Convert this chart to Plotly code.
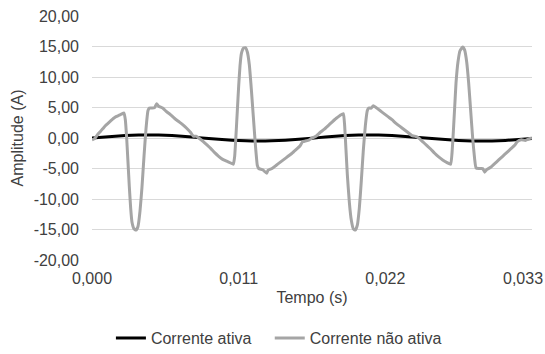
import plotly.graph_objects as go

# Corrente ativa (black)
t_ativa = [0.000, 0.001, 0.002, 0.003, 0.004, 0.005, 0.006, 0.007, 0.008, 0.009,
           0.010, 0.011, 0.012, 0.013, 0.014, 0.015, 0.016, 0.017, 0.018, 0.019,
           0.020, 0.021, 0.022, 0.023, 0.024, 0.025, 0.026, 0.027, 0.028, 0.029,
           0.030, 0.031, 0.032, 0.033]
i_ativa = [0.00, 0.18, 0.34, 0.45, 0.50, 0.48, 0.39, 0.24, 0.06, -0.12,
           -0.29, -0.42, -0.49, -0.49, -0.42, -0.29, -0.12, 0.06, 0.24, 0.39,
           0.48, 0.50, 0.45, 0.34, 0.18, 0.00, -0.18, -0.34, -0.45, -0.50,
           -0.48, -0.39, -0.24, -0.06]

# Corrente não ativa (gray)
t_nao = [0.0000, 0.0002, 0.0004, 0.0006, 0.0008, 0.0010, 0.0012, 0.0014, 0.0016, 0.0018,
         0.0020, 0.0022, 0.0024, 0.0025, 0.0026, 0.0027, 0.0028, 0.0029, 0.0030, 0.00315,
         0.0033, 0.00345, 0.0036, 0.00375, 0.0039, 0.00405, 0.0042, 0.0043, 0.0045, 0.0047,
         0.00485, 0.0050, 0.0053, 0.0056, 0.0059, 0.0062, 0.0065, 0.0068, 0.0071, 0.0074,
         0.0076, 0.0078, 0.0080, 0.0083, 0.0086, 0.0089, 0.0092, 0.0095, 0.0098, 0.0101,
         0.0104, 0.0106, 0.0107, 0.0108, 0.0109, 0.0110, 0.0111, 0.0112, 0.01135, 0.0115,
         0.01165, 0.0118, 0.01195, 0.0121, 0.01225, 0.0124, 0.0125, 0.0128, 0.0131, 0.0132,
         0.0135, 0.0138, 0.0141, 0.0144, 0.0147, 0.0150, 0.0153, 0.0156, 0.0158, 0.0160,
         0.0163, 0.0165, 0.0168, 0.0171, 0.0174, 0.0177, 0.0180, 0.0183, 0.0186, 0.01885,
         0.01895, 0.01905, 0.01915, 0.0193, 0.01945, 0.0196, 0.01975, 0.0199, 0.02005, 0.0202,
         0.02035, 0.0205, 0.02065, 0.02075, 0.02095, 0.0211, 0.0213, 0.0216, 0.0219, 0.0222,
         0.0225, 0.0228, 0.0231, 0.0234, 0.0237, 0.0240, 0.0242, 0.0245, 0.0248, 0.0251,
         0.0254, 0.0257, 0.0260, 0.0263, 0.0266, 0.0269, 0.0270, 0.0271, 0.0272, 0.0273,
         0.02745, 0.0276, 0.0278, 0.02795, 0.0281, 0.02825, 0.0284, 0.02855, 0.0287, 0.0288,
         0.0290, 0.0293, 0.02945, 0.0296, 0.0299, 0.0302, 0.0305, 0.0308, 0.0311, 0.0314,
         0.0317, 0.0319, 0.0322, 0.0325, 0.0328, 0.0330]
i_nao = [-0.3, -0.1, 0.5, 1.0, 1.5, 2.0, 2.4, 2.8, 3.2, 3.5,
         3.7, 3.9, 4.1, 3.0, 0.0, -4.0, -8.0, -11.5, -13.8, -14.9,
         -15.1, -14.5, -12.0, -8.0, -3.0, 1.5, 4.5, 4.9, 4.9, 5.0,
         5.6, 5.2, 4.9, 4.3, 3.8, 3.2, 2.7, 2.2, 1.6, 0.9,
         0.3, 0.3, 0.0, -0.5, -1.1, -1.7, -2.4, -3.0, -3.5, -3.8,
         -4.1, -4.3, -3.0, 0.5, 4.5, 8.5, 11.8, 13.8, 14.7, 14.8,
         14.1, 12.0, 8.0, 3.5, -1.0, -4.5, -5.0, -5.2, -5.8, -5.3,
         -5.0, -4.5, -4.0, -3.5, -3.0, -2.5, -1.9, -1.3, -0.6, -0.5,
         -0.3, 0.0, 0.3, 0.9, 1.4, 2.0, 2.6, 3.2, 3.7, 4.0,
         2.0, -2.0, -6.0, -10.5, -13.5, -14.9, -15.1, -14.3, -11.5, -7.0,
         -2.0, 2.0, 4.5, 4.9, 4.9, 5.3, 5.0, 4.5, 4.0, 3.5,
         3.0, 2.4, 1.9, 1.4, 0.9, 0.4, 0.3, 0.0, -0.6, -1.2,
         -1.8, -2.5, -3.1, -3.6, -4.0, -4.3, -2.5, 1.0, 5.0, 9.0,
         12.5, 14.3, 14.9, 14.4, 12.5, 9.0, 4.5, 0.0, -3.5, -4.9,
         -5.0, -5.0, -5.6, -5.2, -4.8, -4.2, -3.6, -3.0, -2.4, -1.8,
         -1.2, -0.6, -0.3, -0.4, -0.1, 0.0]

x_tickvals = [0.000, 0.011, 0.022, 0.033]
x_ticktext = ["0,000", "0,011", "0,022", ""]
x_last_ticktext = "0,033"   # drawn right-aligned to the chart edge, as in the original
y_tickvals = [-20, -15, -10, -5, 0, 5, 10, 15, 20]
y_ticktext = ["-20,00", "-15,00", "-10,00", "-5,00", "0,00", "5,00", "10,00", "15,00", "20,00"]

FONT = "Liberation Sans, Arial, sans-serif"
TXT = "#404040"

fig = go.Figure()
fig.add_trace(go.Scatter(x=t_ativa, y=i_ativa, mode="lines", name="Corrente ativa",
                         legend="legend",
                         line=dict(color="#000000", width=3, shape="spline", smoothing=0.6)))
fig.add_trace(go.Scatter(x=t_nao, y=i_nao, mode="lines", name="Corrente não ativa",
                         legend="legend2",
                         line=dict(color="#a5a5a5", width=3, shape="spline", smoothing=0.4)))

leg_common = dict(orientation="h", y=-0.32, yanchor="middle", xanchor="left",
                  font=dict(size=16, color=TXT), itemwidth=30,
                  bgcolor="rgba(0,0,0,0)")

fig.update_layout(
    width=545, height=354,
    margin=dict(l=92, r=13, t=16, b=94, autoexpand=False),
    paper_bgcolor="white", plot_bgcolor="white",
    font=dict(family=FONT, size=16, color=TXT),
    showlegend=True,
    legend=dict(x=0.043, **leg_common),
    legend2=dict(x=0.404, **leg_common),
    xaxis=dict(range=[0, 0.033], tickvals=x_tickvals, ticktext=x_ticktext,
               showgrid=False, zeroline=False, showline=False, ticks="",
               ticklabelstandoff=7,
               title=dict(text="Tempo (s)", standoff=5, font=dict(size=16, color=TXT))),
    yaxis=dict(range=[-20, 20], tickvals=y_tickvals, ticktext=y_ticktext,
               showgrid=True, gridcolor="#d9d9d9", gridwidth=1, zeroline=False,
               showline=False, ticks="", ticklabelstandoff=12,
               title=dict(text="Amplitude (A)", standoff=6, font=dict(size=16, color=TXT))),
    annotations=[dict(text=x_last_ticktext, xref="paper", yref="paper",
                      x=1 + 13 / 440, y=-0.0758, xanchor="right", yanchor="middle",
                      showarrow=False, font=dict(size=16, color=TXT))],
)

fig.write_html("out.html",
               config={"displayModeBar": False},
               post_script="document.body.style.margin='0';"
                           "document.documentElement.style.margin='0';")
